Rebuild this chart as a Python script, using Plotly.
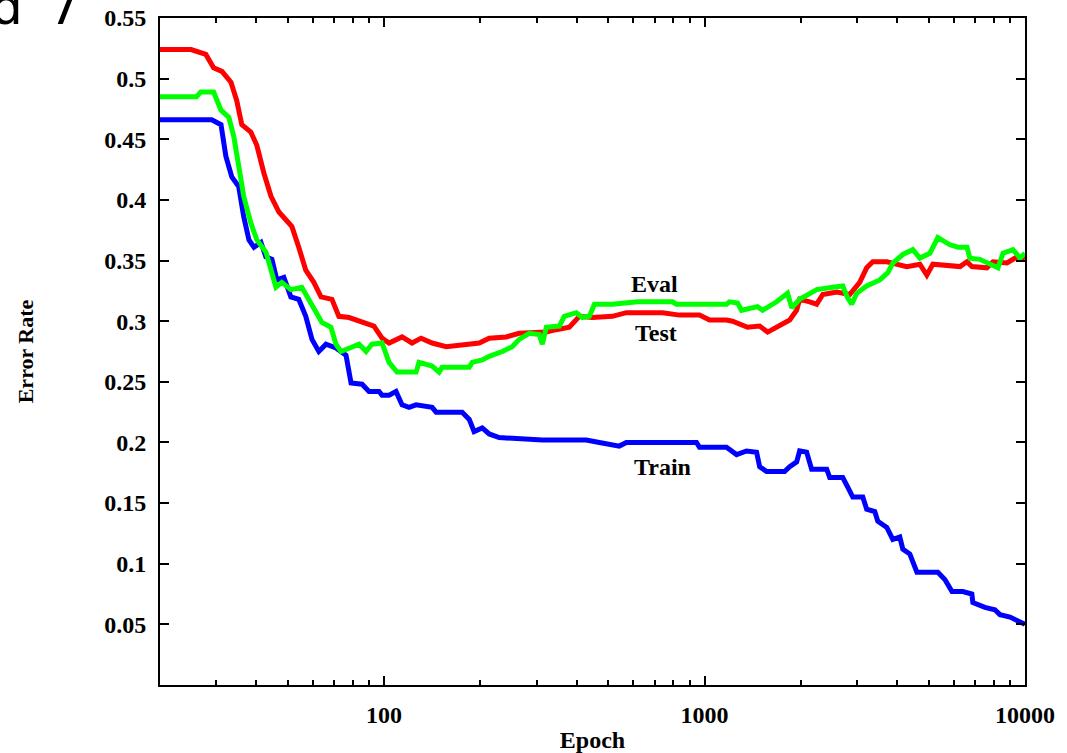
import math
import plotly.graph_objects as go

# ---- data ----
test_epoch = [20, 25, 27.8, 29.4, 31.2, 33.3, 34.7, 36.0, 38.4, 40.1, 42.2, 44.4, 47.0, 49.4, 51.6,
              54.2, 57.0, 60.4, 63.6, 68.8, 72.3, 77.8, 85.4, 93.0, 98.6, 103.7, 113.8, 122.3, 130.5,
              141.3, 156.3, 180.3, 198.2, 212.9, 240.6, 264.1, 298.5, 320.9, 344.9, 378.6, 406.8,
              446.9, 515.8, 570.2, 739.5, 835.6, 964.7, 1037, 1171, 1223, 1362, 1486, 1574, 1715,
              1844, 1939, 1981, 2129, 2239, 2339, 2585, 2838, 3050, 3206, 3350, 3705, 3981, 4276,
              4699, 4939, 5157, 6266, 6592, 6826, 7603, 7943, 8786, 9441, 10000]
test_err = [0.524, 0.524, 0.520, 0.509, 0.506, 0.497, 0.482, 0.462, 0.456, 0.445, 0.422, 0.403, 0.390,
            0.384, 0.378, 0.361, 0.342, 0.332, 0.320, 0.318, 0.304, 0.303, 0.299, 0.296, 0.286, 0.282,
            0.287, 0.282, 0.286, 0.282, 0.279, 0.281, 0.282, 0.286, 0.287, 0.290, 0.290, 0.291, 0.293,
            0.295, 0.304, 0.303, 0.304, 0.307, 0.307, 0.305, 0.305, 0.301, 0.301, 0.300, 0.295, 0.296,
            0.291, 0.297, 0.301, 0.309, 0.318, 0.316, 0.314, 0.322, 0.324, 0.322, 0.332, 0.344, 0.349,
            0.349, 0.347, 0.345, 0.347, 0.338, 0.347, 0.345, 0.349, 0.345, 0.344, 0.349, 0.348, 0.353,
            0.352]

eval_epoch = [20, 26.0, 26.8, 29.4, 31.0, 32.8, 34.0, 35.2, 36.5, 38.4, 40.1, 42.8, 44.4, 46.0, 48.0,
              51.2, 55.4, 58.3, 61.3, 64.0, 68.3, 70.8, 73.4, 79.4, 83.6, 87.9, 91.7, 98.6, 103.7,
              109.8, 125.9, 128.6, 141.3, 148.6, 151.8, 184.5, 188.4, 202.5, 212.9, 233.9, 251.2,
              264.1, 283.9, 305.0, 311.9, 320.9, 352.3, 365.2, 398.1, 415.6, 437.3, 453.4, 515.8,
              618.0, 794.3, 817.6, 1037, 1171, 1197, 1268, 1305, 1464, 1518, 1679, 1816, 1872, 1981,
              2239, 2512, 2700, 2799, 2880, 2985, 3206, 3524, 3733, 3868, 4157, 4467, 4699, 5047,
              5346, 5834, 6180, 6592, 6730, 7227, 7780, 8235, 8537, 9173, 9651, 10000]
eval_err = [0.485, 0.485, 0.489, 0.489, 0.474, 0.468, 0.452, 0.425, 0.403, 0.381, 0.367, 0.357, 0.342,
            0.328, 0.332, 0.326, 0.328, 0.318, 0.307, 0.299, 0.295, 0.281, 0.275, 0.279, 0.281, 0.275,
            0.281, 0.282, 0.266, 0.258, 0.258, 0.266, 0.263, 0.258, 0.262, 0.262, 0.266, 0.268, 0.271,
            0.275, 0.279, 0.285, 0.290, 0.289, 0.281, 0.295, 0.296, 0.304, 0.307, 0.303, 0.304, 0.314,
            0.314, 0.316, 0.316, 0.314, 0.314, 0.314, 0.316, 0.315, 0.309, 0.312, 0.309, 0.316, 0.323,
            0.311, 0.318, 0.326, 0.328, 0.329, 0.319, 0.314, 0.323, 0.329, 0.334, 0.340, 0.348, 0.355,
            0.359, 0.352, 0.356, 0.369, 0.363, 0.361, 0.361, 0.352, 0.351, 0.347, 0.344, 0.356, 0.359,
            0.352, 0.356]

train_epoch = [20, 29.0, 31.0, 32.1, 33.5, 35.2, 36.5, 37.9, 39.3, 41.3, 42.8, 44.7, 46.3, 48.7, 51.2,
               54.2, 57.0, 59.6, 62.6, 65.9, 70.8, 76.1, 78.9, 85.4, 89.8, 96.5, 98.6, 103.7, 109.0,
               113.8, 119.7, 125.9, 141.3, 145.4, 175.3, 184.5, 191.0, 202.5, 212.9, 228.7, 311.9,
               427.6, 469.7, 542.0, 570.2, 944.1, 964.7, 1171, 1259, 1352, 1454, 1486, 1563, 1778,
               1844, 1939, 1981, 2083, 2159, 2406, 2459, 2700, 2838, 2901, 3118, 3206, 3398, 3473,
               3705, 3868, 4068, 4157, 4372, 4534, 4600, 5346, 5623, 5918, 6397, 6826, 6875, 7499,
               8054, 8353, 8983, 9651, 10000]
train_err = [0.466, 0.466, 0.462, 0.436, 0.419, 0.411, 0.386, 0.367, 0.361, 0.365, 0.353, 0.351, 0.334,
             0.336, 0.320, 0.318, 0.304, 0.285, 0.275, 0.281, 0.278, 0.272, 0.249, 0.248, 0.242, 0.242,
             0.239, 0.239, 0.242, 0.231, 0.229, 0.231, 0.229, 0.225, 0.225, 0.219, 0.209, 0.212, 0.207,
             0.204, 0.202, 0.202, 0.200, 0.197, 0.200, 0.200, 0.196, 0.196, 0.190, 0.193, 0.192, 0.180,
             0.176, 0.176, 0.180, 0.184, 0.193, 0.192, 0.178, 0.178, 0.171, 0.171, 0.160, 0.155, 0.155,
             0.145, 0.143, 0.135, 0.130, 0.120, 0.122, 0.112, 0.108, 0.098, 0.093, 0.093, 0.087, 0.077,
             0.077, 0.075, 0.068, 0.064, 0.062, 0.058, 0.056, 0.052, 0.050]

y_ticks = [0.05, 0.1, 0.15, 0.2, 0.25, 0.3, 0.35, 0.4, 0.45, 0.5, 0.55]
y_tick_labels = ["0.05", "0.1", "0.15", "0.2", "0.25", "0.3", "0.35", "0.4", "0.45", "0.5", "0.55"]
x_ticks = [100, 1000, 10000]
x_tick_labels = ["100", "1000", "10000"]
x_minor = [20, 30, 40, 50, 60, 70, 80, 90, 200, 300, 400, 500, 600, 700, 800, 900,
           2000, 3000, 4000, 5000, 6000, 7000, 8000, 9000]

series_labels = [("Eval", 698, 0.331), ("Test", 707, 0.290), ("Train", 740, 0.180)]

FONT = "Liberation Serif"

fig = go.Figure()
fig.add_trace(go.Scatter(x=train_epoch, y=train_err, mode="lines", name="Train",
                         line=dict(color="#0000ff", width=5)))
fig.add_trace(go.Scatter(x=test_epoch, y=test_err, mode="lines", name="Test",
                         line=dict(color="#ff0000", width=5)))
fig.add_trace(go.Scatter(x=eval_epoch, y=eval_err, mode="lines", name="Eval",
                         line=dict(color="#00ff00", width=5)))

for txt, ex, ey in series_labels:
    fig.add_annotation(x=math.log10(ex), y=ey, xref="x", yref="y", text="<b>%s</b>" % txt,
                       showarrow=False, font=dict(family=FONT, size=24, color="black"))

# clipped heading fragment at the top-left corner
fig.add_annotation(x=-0.1977, y=0.9693, xref="paper", yref="paper", text="d\u2009 7",
                   xanchor="left", yanchor="bottom", showarrow=False,
                   font=dict(family="DejaVu Sans", size=50, color="black"))

axis_common = dict(showline=True, linecolor="black", linewidth=2, mirror="ticks",
                   ticks="inside", ticklen=9, tickwidth=2, tickcolor="black",
                   showgrid=False, zeroline=False, automargin=False,
                   ticklabelstandoff=7, ticklabeloverflow="allow",
                   tickfont=dict(family=FONT, size=24, color="black"))

fig.update_xaxes(type="log", range=[math.log10(20), 4], tickmode="array",
                 tickvals=x_ticks, ticktext=["<b>%s</b>" % t for t in x_tick_labels],
                 minor=dict(tickmode="array", tickvals=x_minor, ticks="inside", ticklen=5,
                            tickwidth=2, tickcolor="black"),
                 title=dict(text="<b>Epoch</b>", font=dict(family=FONT, size=24, color="black"),
                            standoff=4),
                 **axis_common)
fig.update_yaxes(range=[0, 0.55], tickmode="array", tickvals=y_ticks,
                 ticktext=["<b>%s</b>" % t for t in y_tick_labels],
                 title=dict(text="<b>Error Rate</b>", font=dict(family=FONT, size=22, color="black"),
                            standoff=65),
                 **axis_common)

fig.update_layout(width=1067, height=753, margin=dict(l=160, r=42, t=18, b=68),
                  plot_bgcolor="white", paper_bgcolor="white", showlegend=False)

# remove the default page margin so the figure fills the window exactly
fig.write_html("out.html", config={"displayModeBar": False},
               post_script="document.body.style.margin='0';")
